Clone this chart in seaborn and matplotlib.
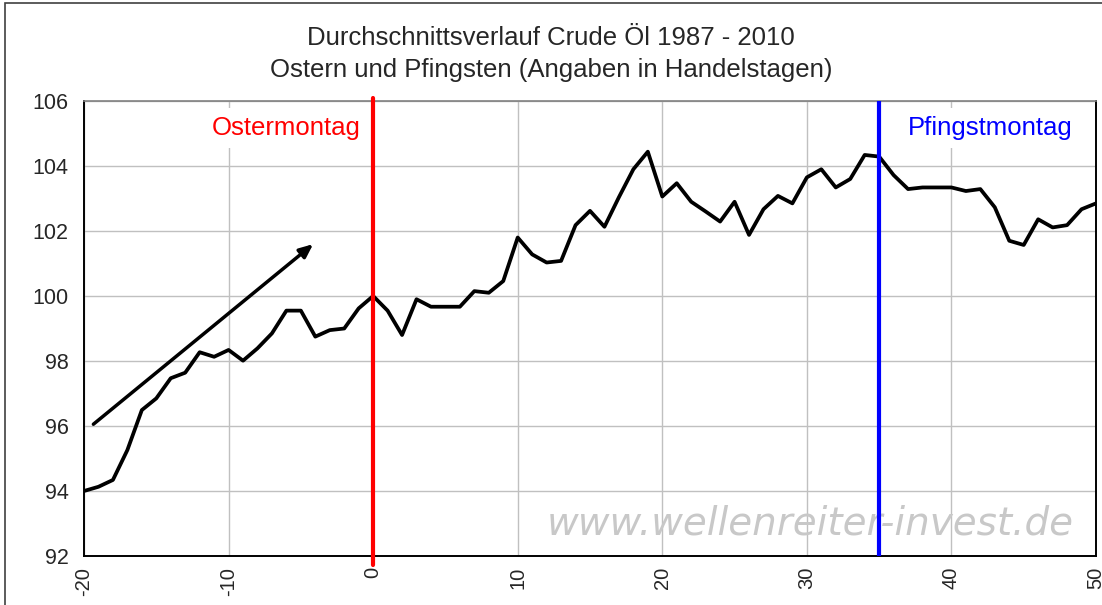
import matplotlib
matplotlib.use("Agg")
import matplotlib.pyplot as plt
import seaborn as sns
import pandas as pd
import numpy as np
from matplotlib.patches import Rectangle

# Handelstage relativ zu Ostermontag
days = np.arange(-20, 51)
price = [94.0, 94.13, 94.34, 95.26, 96.49, 96.85, 97.47, 97.64, 98.27, 98.13,
         98.34, 98.01, 98.39, 98.85, 99.55, 99.55, 98.75, 98.95, 99.0, 99.62,
         100.0, 99.55, 98.8, 99.9, 99.67, 99.67, 99.67, 100.15, 100.1, 100.46,
         101.8, 101.28, 101.03, 101.08, 102.18, 102.62, 102.13, 103.04, 103.9, 104.44,
         103.06, 103.47, 102.9, 102.6, 102.29, 102.9, 101.88, 102.67, 103.08, 102.85,
         103.65, 103.9, 103.34, 103.6, 104.34, 104.29, 103.72, 103.29, 103.34, 103.34,
         103.34, 103.23, 103.29, 102.73, 101.7, 101.57, 102.36, 102.11, 102.18, 102.67,
         102.85]
easter_day = 0
pentecost_day = 35
arrow_start = (-19.5, 96.0)
arrow_end = (-4.0, 101.65)

df = pd.DataFrame({"Tag": days, "Kurs": price})

sns.set_style("white")
plt.rcParams["font.family"] = ["Liberation Sans", "DejaVu Sans"]
plt.rcParams["axes.unicode_minus"] = False

fig = plt.figure(figsize=(11.02, 6.05), dpi=100)
ax = fig.add_axes([84 / 1102, 1 - 556 / 605, 1012 / 1102, 455 / 605])

sns.lineplot(data=df, x="Tag", y="Kurs", ax=ax, color="black", linewidth=2.7, zorder=4)

ax.set_xlim(-20, 50)
ax.set_ylim(92, 106)
ax.set_xticks(range(-20, 51, 10))
ax.set_yticks(range(92, 107, 2))
ax.set_xlabel("")
ax.set_ylabel("")
ax.grid(True, color="#c0c0c0", linewidth=1)
ax.tick_params(axis="both", direction="out", length=6, width=1, color="black",
               labelsize=15.5, pad=5)
ax.tick_params(axis="x", labelrotation=90, labelsize=14.5, pad=2)

for side in ["left", "bottom", "right"]:
    ax.spines[side].set_color("black")
    ax.spines[side].set_linewidth(1.4)
ax.spines["top"].set_color("#808080")
ax.spines["top"].set_linewidth(1.2)

ax.axvline(easter_day, ymin=-0.02, ymax=1.007, color="#ff0000", linewidth=3, clip_on=False, zorder=5)
ax.axvline(pentecost_day, color="#0000ff", linewidth=3, zorder=5)

ax.annotate("", xy=arrow_end, xytext=arrow_start,
            arrowprops=dict(arrowstyle="-|>,head_length=0.8,head_width=0.35",
                            color="black", linewidth=2.5), zorder=6)

ax.text(-0.85, 105.17, "Ostermontag", color="#ff0000", fontsize=18.5, ha="right", va="center",
        bbox=dict(facecolor="white", edgecolor="none", pad=6), zorder=3)
ax.text(37.0, 105.17, "Pfingstmontag", color="#0000ff", fontsize=18.5, ha="left", va="center",
        bbox=dict(facecolor="white", edgecolor="none", pad=6), zorder=3)

ax.text(0.978, 0.0725, "www.wellenreiter-invest.de", transform=ax.transAxes, color="#c8c8c8",
        fontsize=28, family="DejaVu Sans", style="oblique", ha="right", va="center", zorder=3)

fig.text(0.5, 1 - 38 / 605, "Durchschnittsverlauf Crude Öl 1987 - 2010", ha="center",
         va="center", fontsize=18.5)
fig.text(0.5, 1 - 70 / 605, "Ostern und Pfingsten (Angaben in Handelstagen)", ha="center",
         va="center", fontsize=18.5)

fig.patches.append(Rectangle((5 / 1102, -0.1), 1.2, 1.1 - 3 / 605, transform=fig.transFigure,
                             fill=False, edgecolor="#404040", linewidth=1.2))

fig.savefig("out.png", dpi=100)
